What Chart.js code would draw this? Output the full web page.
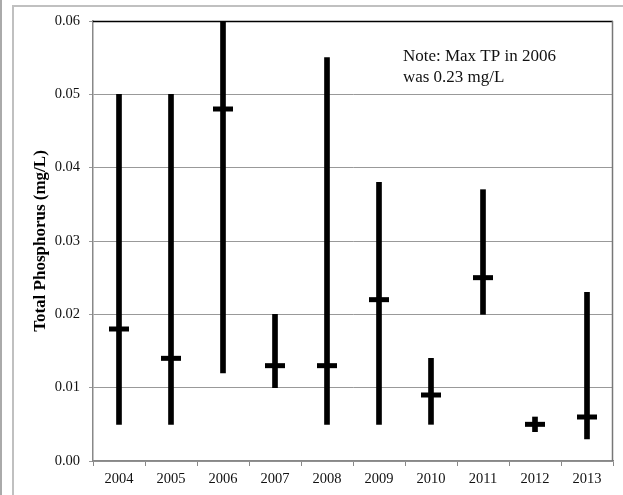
<!DOCTYPE html>
<html>
<head>
<meta charset="utf-8">
<script src="https://cdn.jsdelivr.net/npm/chart.js@4"></script>
<style>
  html, body { margin: 0; padding: 0; background: #fff; }
  #wrap { position: relative; width: 623px; height: 495px; overflow: hidden; }
  #edge { position: absolute; left: 0; top: 0; width: 2px; height: 495px; background: #aaa; }
  #frame { position: absolute; left: 12px; top: 5px; width: 700px; height: 600px;
           border-left: 2px solid #c0c0c0; border-top: 2px solid #c0c0c0; }
  canvas { position: absolute; left: 0; top: 0; }
</style>
</head>
<body>
<div id="wrap">
  <div id="edge"></div>
  <div id="frame"></div>
  <canvas id="c" width="623" height="495"></canvas>
</div>
<script>
const years = ['2004','2005','2006','2007','2008','2009','2010','2011','2012','2013'];
const minTP  = [0.005, 0.005, 0.012, 0.010, 0.005, 0.005, 0.005, 0.020, 0.004, 0.003];
const maxTP  = [0.050, 0.050, 0.230, 0.020, 0.055, 0.038, 0.014, 0.037, 0.006, 0.023];
const meanTP = [0.018, 0.014, 0.048, 0.013, 0.013, 0.022, 0.009, 0.025, 0.005, 0.006];
const yTicks = [0, 0.01, 0.02, 0.03, 0.04, 0.05, 0.06];
const noteLines = ['Note: Max TP in 2006', 'was 0.23 mg/L'];

const serif = "'Liberation Serif', 'Times New Roman', serif";

const framePlugin = {
  id: 'framePlugin',
  afterDraw(chart) {
    const { ctx, chartArea: a } = chart;
    ctx.save();
    ctx.lineWidth = 1.5;
    ctx.strokeStyle = '#000';
    ctx.beginPath();
    ctx.moveTo(a.left, a.top + 0.5);
    ctx.lineTo(a.right, a.top + 0.5);
    ctx.stroke();
    ctx.strokeStyle = '#777';
    ctx.beginPath();
    ctx.moveTo(a.right - 0.5, a.top);
    ctx.lineTo(a.right - 0.5, a.bottom);
    ctx.stroke();
    // note text
    ctx.fillStyle = '#111';
    ctx.font = "17px " + serif;
    ctx.textBaseline = 'middle';
    ctx.textAlign = 'left';
    const x0 = a.left + (a.right - a.left) * 0.596;
    noteLines.forEach((t, i) => ctx.fillText(t, x0, a.top + 36 + i * 21));
    ctx.restore();
  }
};

new Chart(document.getElementById('c'), {
  type: 'bar',
  data: {
    labels: years,
    datasets: [
      {
        type: 'bar',
        data: years.map((y, i) => [minTP[i], maxTP[i]]),
        backgroundColor: '#000',
        borderWidth: 0,
        barThickness: 5,
        order: 2
      },
      {
        type: 'line',
        data: meanTP,
        showLine: false,
        pointStyle: 'line',
        pointRadius: 10,
        pointHoverRadius: 10,
        pointBorderWidth: 5,
        pointHoverBorderWidth: 5,
        borderColor: '#000',
        backgroundColor: '#000',
        order: 1
      }
    ]
  },
  options: {
    responsive: false,
    animation: false,
    events: [],
    layout: { autoPadding: false, padding: { left: 0, top: 21, right: 10, bottom: 0 } },
    plugins: { legend: { display: false }, tooltip: { enabled: false } },
    scales: {
      x: {
        offset: true,
        grid: { display: true, drawOnChartArea: false, offset: true, tickLength: 5, color: '#888', lineWidth: 1 },
        border: { color: '#888', width: 1.5 },
        ticks: { color: '#111', font: { family: serif, size: 14.5 }, padding: 4, maxRotation: 0 },
        afterFit(s) { s.height = 34; }
      },
      y: {
        min: 0,
        max: 0.06,
        afterBuildTicks(s) { s.ticks = yTicks.map(v => ({ value: v })); },
        grid: { color: '#999', lineWidth: 1, tickLength: 4 },
        border: { color: '#888', width: 1.5 },
        ticks: {
          color: '#111',
          font: { family: serif, size: 14.5 },
          padding: 9,
          callback: v => Number(v).toFixed(2)
        },
        title: {
          display: true,
          text: 'Total Phosphorus (mg/L)',
          color: '#000',
          font: { family: serif, size: 17, weight: 'bold' },
          padding: { top: 30, bottom: 0 }
        },
        afterFit(s) { s.width = 93; }
      }
    }
  },
  plugins: [framePlugin]
});
</script>
</body>
</html>
